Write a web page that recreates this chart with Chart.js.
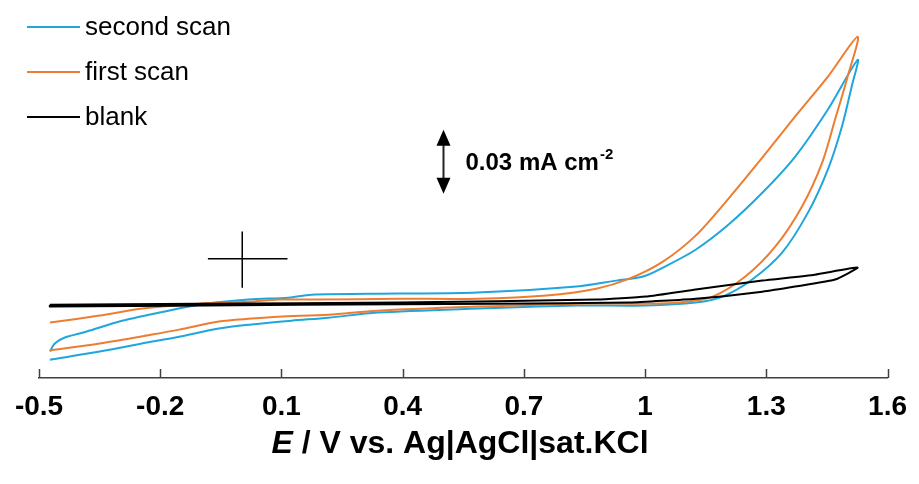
<!DOCTYPE html>
<html>
<head>
<meta charset="utf-8">
<script src="https://cdn.jsdelivr.net/npm/chart.js@4.4.1/dist/chart.umd.min.js"></script>
<style>
  html, body { margin: 0; padding: 0; background: #ffffff; }
  #wrap { width: 919px; height: 484px; }
</style>
</head>
<body>
<div id="wrap"><canvas id="cv" width="919" height="484"></canvas></div>
<script>
// Potential axis (V vs. Ag|AgCl|sat.KCl)
const tickValues = [-0.5, -0.2, 0.1, 0.4, 0.7, 1.0, 1.3, 1.6];
const tickLabels = ['-0.5', '-0.2', '0.1', '0.4', '0.7', '1', '1.3', '1.6'];

// Second scan: potential (V) and current density (mA cm^-2), forward then reverse sweep
const secondScanE = [-0.473, -0.461, -0.436, -0.382, -0.301, -0.202, -0.104, 0.019, 0.117, 0.174, 0.388, 0.584, 0.830, 0.929, 0.995, 1.044, 1.125, 1.206, 1.290, 1.371, 1.452, 1.526,
  1.511, 1.487, 1.452, 1.403, 1.339, 1.265, 1.192, 1.125, 1.002, 0.830, 0.584, 0.338, 0.216, 0.125, 0.026, -0.055, -0.153, -0.220, -0.350, -0.473];
const secondScanI = [-0.0436, -0.0398, -0.0370, -0.0342, -0.0295, -0.0253, -0.0216, -0.0192, -0.0183, -0.0169, -0.0164, -0.0159, -0.0131, -0.0103, -0.0084, -0.0042, 0.0042, 0.0159, 0.0309, 0.0478, 0.0699, 0.0933,
  0.0806, 0.0619, 0.0417, 0.0216, 0.0028, -0.0098, -0.0178, -0.0206, -0.0220, -0.0220, -0.0234, -0.0253, -0.0277, -0.0291, -0.0309, -0.0328, -0.0366, -0.0389, -0.0436, -0.0474];

// First scan
const firstScanE = [-0.473, -0.350, -0.244, -0.104, 0.019, 0.093, 0.191, 0.388, 0.584, 0.756, 0.879, 0.961, 1.044, 1.125, 1.206, 1.290, 1.371, 1.452, 1.526,
  1.501, 1.470, 1.438, 1.388, 1.322, 1.248, 1.167, 1.083, 1.002, 0.830, 0.584, 0.338, 0.216, 0.093, 0.026, -0.055, -0.153, -0.220, -0.350, -0.473];
const firstScanI = [-0.0300, -0.0267, -0.0234, -0.0211, -0.0202, -0.0192, -0.0192, -0.0188, -0.0188, -0.0173, -0.0141, -0.0094, -0.0014, 0.0108, 0.0281, 0.0474, 0.0666, 0.0853, 0.1041,
  0.0853, 0.0652, 0.0450, 0.0244, 0.0056, -0.0084, -0.0178, -0.0206, -0.0211, -0.0211, -0.0225, -0.0244, -0.0263, -0.0272, -0.0281, -0.0295, -0.0333, -0.0356, -0.0398, -0.0431];

// Blank electrolyte
const blankE = [-0.473, -0.104, 0.388, 0.879, 1.002, 1.125, 1.290, 1.420, 1.526, 1.470, 1.371, 1.290, 1.125, 0.961, 0.634, 0.142, -0.473, -0.473];
const blankI = [-0.0216, -0.0211, -0.0206, -0.0192, -0.0178, -0.0145, -0.0103, -0.0075, -0.0042, -0.0098, -0.0131, -0.0155, -0.0188, -0.0206, -0.0211, -0.0216, -0.0225, -0.0216];

// Origin marker (0 V, 0 mA cm^-2) and current scale bar
const originCrossE = [-0.082, 0.115];
const originCrossI = [-0.0136, 0.0127];
const originE = 0.003;
const scaleBarE = 0.501;
const scaleBarI = [0.0305, 0.0605];
const scaleBarText = '0.03 mA cm';
const scaleBarSup = '-2';

const seriesNames = ['second scan', 'first scan', 'blank'];
const seriesColors = ['#1ea6dd', '#ed7d31', '#000000'];

const FONT = "'Liberation Sans', Arial, Helvetica, sans-serif";
const AXIS_COLOR = '#404040';

const toPoints = (xs, ys) => xs.map((v, i) => ({ x: v, y: ys[i] }));

const decor = {
  id: 'decor',
  afterDraw(chart) {
    const { ctx, scales: { x, y }, chartArea } = chart;
    ctx.save();

    // inward tick marks on the potential axis
    ctx.strokeStyle = AXIS_COLOR;
    ctx.lineWidth = 1.5;
    tickValues.forEach(v => {
      const px = Math.round(x.getPixelForValue(v)) + 0.5;
      ctx.beginPath();
      ctx.moveTo(px, chartArea.bottom);
      ctx.lineTo(px, chartArea.bottom - 9);
      ctx.stroke();
    });

    // axis title with italic E
    ctx.fillStyle = '#000';
    ctx.textBaseline = 'alphabetic';
    const partA = 'E';
    const partB = ' / V vs. Ag|AgCl|sat.KCl';
    const fA = 'italic bold 32px ' + FONT;
    const fB = 'bold 32px ' + FONT;
    ctx.font = fA; const wA = ctx.measureText(partA).width;
    ctx.font = fB; const wB = ctx.measureText(partB).width;
    const cx = 460;
    const tx = cx - (wA + wB) / 2;
    const ty = 453;
    ctx.font = fA; ctx.textAlign = 'left'; ctx.fillText(partA, tx, ty);
    ctx.font = fB; ctx.fillText(partB, tx + wA, ty);

    // legend: short line samples with names
    ctx.font = '26px ' + FONT;
    ctx.textBaseline = 'middle';
    seriesNames.forEach((name, i) => {
      const ly = 27 + i * 45;
      ctx.strokeStyle = seriesColors[i];
      ctx.lineWidth = 2;
      ctx.beginPath(); ctx.moveTo(27, ly); ctx.lineTo(80, ly); ctx.stroke();
      ctx.fillStyle = '#000';
      ctx.fillText(name, 85, ly + 1);
    });

    // scale bar: double-headed arrow
    const ax = Math.round(x.getPixelForValue(scaleBarE)) + 0.5;
    const yLo = y.getPixelForValue(scaleBarI[0]);
    const yHi = y.getPixelForValue(scaleBarI[1]);
    const head = 15, half = 7;
    ctx.strokeStyle = '#222';
    ctx.lineWidth = 2;
    ctx.beginPath(); ctx.moveTo(ax, yHi + head); ctx.lineTo(ax, yLo - head); ctx.stroke();
    ctx.fillStyle = '#000';
    ctx.beginPath(); ctx.moveTo(ax, yHi); ctx.lineTo(ax - half, yHi + head + 1); ctx.lineTo(ax + half, yHi + head + 1); ctx.closePath(); ctx.fill();
    ctx.beginPath(); ctx.moveTo(ax, yLo); ctx.lineTo(ax - half, yLo - head - 1); ctx.lineTo(ax + half, yLo - head - 1); ctx.closePath(); ctx.fill();

    // scale bar label
    const mid = (yLo + yHi) / 2;
    ctx.font = 'bold 24px ' + FONT;
    ctx.textAlign = 'left';
    ctx.textBaseline = 'alphabetic';
    const lx = ax + 22;
    ctx.fillText(scaleBarText, lx, mid + 8);
    const lw = ctx.measureText(scaleBarText).width;
    ctx.font = 'bold 15px ' + FONT;
    ctx.fillText(scaleBarSup, lx + lw + 1, mid - 3);

    ctx.restore();
  }
};

const lineStyle = (color, order) => ({
  borderColor: color,
  backgroundColor: color,
  borderWidth: 2,
  pointRadius: 0,
  showLine: true,
  fill: false,
  tension: 0.3,
  order: order
});

new Chart(document.getElementById('cv'), {
  type: 'scatter',
  data: {
    datasets: [
      Object.assign({ label: seriesNames[0], data: toPoints(secondScanE, secondScanI) }, lineStyle(seriesColors[0], 3)),
      Object.assign({ label: seriesNames[1], data: toPoints(firstScanE, firstScanI) }, lineStyle(seriesColors[1], 2)),
      Object.assign({ label: seriesNames[2], data: toPoints(blankE, blankI) }, lineStyle(seriesColors[2], 1), { tension: 0.15 }),
      Object.assign({ label: 'origin-h', data: toPoints(originCrossE, [0, 0]) }, lineStyle('#000', 0), { borderWidth: 1.5, tension: 0 }),
      Object.assign({ label: 'origin-v', data: toPoints([originE, originE], originCrossI) }, lineStyle('#000', 0), { borderWidth: 1.5, tension: 0 })
    ]
  },
  options: {
    responsive: false,
    animation: false,
    devicePixelRatio: 1,
    layout: { padding: { left: 39, right: 26, top: 20, bottom: 0 } },
    plugins: {
      legend: { display: false },
      tooltip: { enabled: false }
    },
    scales: {
      x: {
        type: 'linear',
        min: -0.5,
        max: 1.6,
        afterBuildTicks: (scale) => { scale.ticks = tickValues.map(v => ({ value: v })); },
        afterFit: (scale) => { scale.height = 106; },
        ticks: {
          autoSkip: false,
          maxRotation: 0,
          padding: 12,
          color: '#000',
          font: { family: FONT, size: 28, weight: 'bold' },
          callback: (value) => {
            const i = tickValues.findIndex(t => Math.abs(t - value) < 1e-9);
            return i >= 0 ? tickLabels[i] : '';
          }
        },
        grid: { display: false, drawTicks: false },
        border: { display: true, color: AXIS_COLOR, width: 1.5 }
      },
      y: {
        type: 'linear',
        display: false,
        min: -0.056,
        max: 0.112
      }
    }
  },
  plugins: [decor]
});
</script>
</body>
</html>
